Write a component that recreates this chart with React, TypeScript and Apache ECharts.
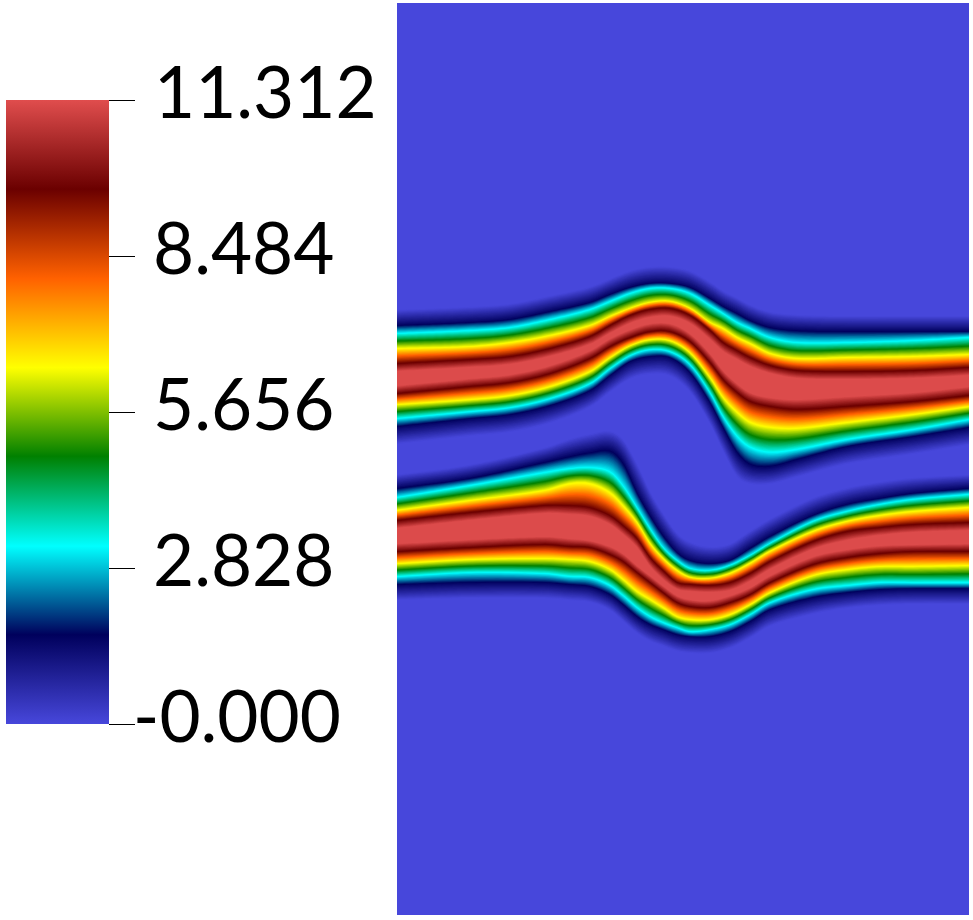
import React, { useEffect, useRef } from "react";
import * as echarts from "echarts";

// Colour bar
const tickLabels = ["-0.000", "2.828", "5.656", "8.484", "11.312"];
const labelShift = [0, 20, 20, 20, 21];
const scaleMax = 11.312;
const tickStep = 2.828;
const rampStops = [0, 0.143, 0.285, 0.429, 0.571, 0.714, 0.857, 1];
const rampColors = [
  [71, 71, 219],
  [0, 0, 92],
  [0, 255, 255],
  [0, 128, 0],
  [255, 255, 0],
  [255, 97, 0],
  [107, 0, 0],
  [224, 77, 77],
];

// Field contours (image coordinates). Contour levels, as fraction of the scale:
const contourLevels = [0, 0.143, 0.285, 0.571, 0.857, 1];

const upperX = [397, 470, 510, 550, 590, 610, 630, 650, 670, 690, 710, 723, 737, 750, 770, 797, 847, 913, 969];
const upperTopOuter = [309, 306, 303, 295, 286, 278, 270, 266, 266, 270, 281, 290, 297, 304, 311, 314, 315, 315, 315];
const upperTopNavy = [325, 322, 319, 311, 302, 294, 287, 283, 283, 287, 298, 306, 313, 320, 327, 330, 331, 331, 331];
const upperTopCyan = [333, 330, 327, 319, 309, 301, 293, 288, 288, 293, 305, 313, 322, 328, 337, 342, 342, 340, 337];
const upperTopYellow = [348, 346, 342, 335, 325, 316, 308, 302, 301, 308, 322, 328, 337, 343, 353, 358, 357, 356, 354];
const upperTopDark = [363, 359, 356, 348, 336, 325, 315, 309, 308, 315, 330, 342, 350, 357, 365, 370, 371, 370, 367];
const upperTopCore = [371, 367, 364, 356, 344, 333, 323, 317, 316, 323, 339, 351, 359, 366, 373, 378, 379, 378, 375];
const upperBotCore = [386, 379, 375, 366, 351, 339, 330, 324, 324, 334, 354, 371, 384, 393, 398, 400, 397, 393, 387];
const upperBotDark = [394, 387, 383, 374, 359, 347, 338, 332, 332, 342, 363, 380, 393, 402, 407, 410, 407, 402, 396];
const upperBotYellow = [405, 400, 396, 387, 372, 358, 346, 340, 341, 353, 378, 398, 413, 423, 428, 429, 423, 415, 407];
const upperBotCyan = [419, 412, 408, 399, 384, 369, 356, 350, 352, 365, 393, 417, 437, 448, 453, 450, 440, 430, 420];
const upperBotNavy = [427, 419, 415, 406, 391, 376, 362, 357, 358, 373, 403, 428, 453, 465, 467, 460, 447, 437, 428];
const upperBotOuter = [445, 437, 433, 424, 408, 393, 380, 375, 377, 393, 425, 452, 478, 485, 485, 478, 465, 455, 446];

const lowerX = [397, 470, 544, 570, 590, 610, 623, 637, 650, 663, 677, 690, 710, 730, 750, 770, 813, 847, 880, 913, 969];
const lowerTopOuter = [474, 464, 447, 438, 433, 430, 438, 462, 490, 512, 532, 541, 546, 543, 530, 518, 497, 487, 481, 477, 474];
const lowerTopNavy = [488, 478, 462, 456, 452, 450, 462, 492, 515, 535, 552, 560, 563, 560, 548, 536, 515, 504, 498, 493, 488];
const lowerTopCyan = [497, 485, 472, 468, 467, 471, 485, 507, 528, 547, 560, 568, 570, 565, 555, 543, 521, 511, 504, 499, 494];
const lowerTopYellow = [510, 500, 490, 483, 483, 492, 505, 522, 543, 558, 570, 577, 578, 573, 563, 551, 531, 521, 515, 511, 507];
const lowerTopDark = [520, 512, 505, 505, 507, 515, 525, 538, 557, 570, 582, 584, 585, 582, 573, 561, 541, 531, 527, 524, 522];
const lowerTopCore = [528, 520, 513, 514, 516, 524, 534, 547, 566, 579, 589, 591, 592, 590, 581, 569, 549, 540, 535, 532, 530];
const lowerBotCore = [544, 540, 537, 539, 541, 547, 554, 566, 576, 586, 596, 600, 601, 596, 588, 576, 557, 550, 546, 545, 544];
const lowerBotDark = [552, 548, 545, 547, 548, 555, 562, 573, 583, 593, 603, 607, 608, 603, 595, 583, 565, 558, 554, 552, 552];
const lowerBotYellow = [564, 560, 559, 560, 562, 570, 580, 592, 600, 608, 617, 620, 620, 615, 605, 593, 576, 570, 567, 567, 566];
const lowerBotCyan = [577, 573, 574, 577, 578, 586, 596, 608, 617, 623, 628, 632, 630, 625, 615, 603, 590, 586, 583, 583, 583];
const lowerBotNavy = [585, 583, 583, 585, 587, 595, 605, 617, 625, 630, 635, 637, 637, 632, 622, 610, 598, 593, 590, 589, 589];
const lowerBotOuter = [601, 599, 599, 601, 603, 611, 622, 634, 642, 647, 652, 654, 654, 649, 639, 627, 615, 609, 606, 605, 605];

const bands = [
  {
    xs: upperX,
    top: [upperTopOuter, upperTopNavy, upperTopCyan, upperTopYellow, upperTopDark, upperTopCore],
    bot: [upperBotOuter, upperBotNavy, upperBotCyan, upperBotYellow, upperBotDark, upperBotCore],
  },
  {
    xs: lowerX,
    top: [lowerTopOuter, lowerTopNavy, lowerTopCyan, lowerTopYellow, lowerTopDark, lowerTopCore],
    bot: [lowerBotOuter, lowerBotNavy, lowerBotCyan, lowerBotYellow, lowerBotDark, lowerBotCore],
  },
];

const FIELD_LEFT = 397;
const FIELD_RIGHT = 969;
const FIELD_TOP = 3;
const FIELD_BOTTOM = 915;
const SHADES = 110;
const STEP = 4;

function rampColor(t: number) {
  let i = 0;
  while (i < rampStops.length - 2 && t > rampStops[i + 1]) i++;
  const f = Math.min(1, Math.max(0, (t - rampStops[i]) / (rampStops[i + 1] - rampStops[i])));
  const a = rampColors[i];
  const b = rampColors[i + 1];
  return `rgb(${Math.round(a[0] + (b[0] - a[0]) * f)},${Math.round(a[1] + (b[1] - a[1]) * f)},${Math.round(a[2] + (b[2] - a[2]) * f)})`;
}

// Smooth curve through the points, used only to draw them.
function curveY(xs: number[], ys: number[], x: number) {
  let i = 0;
  while (i < xs.length - 2 && x > xs[i + 1]) i++;
  const h = xs[i + 1] - xs[i];
  const slope = (k: number) => {
    const a = Math.max(0, k - 1);
    const b = Math.min(xs.length - 1, k + 1);
    return (ys[b] - ys[a]) / (xs[b] - xs[a]);
  };
  const u = (x - xs[i]) / h;
  const u2 = u * u;
  const u3 = u2 * u;
  return (
    (2 * u3 - 3 * u2 + 1) * ys[i] +
    (u3 - 2 * u2 + u) * h * slope(i) +
    (-2 * u3 + 3 * u2) * ys[i + 1] +
    (u3 - u2) * h * slope(i + 1)
  );
}

function contourAt(lines: number[][], xs: number[], level: number, x: number) {
  let i = 0;
  while (i < contourLevels.length - 2 && level > contourLevels[i + 1]) i++;
  const f = (level - contourLevels[i]) / (contourLevels[i + 1] - contourLevels[i]);
  const a = curveY(xs, lines[i], x);
  const b = curveY(xs, lines[i + 1], x);
  return a + (b - a) * f;
}

const shadeData: number[][] = [];
for (let s = 1; s <= SHADES; s++) {
  const level = s / SHADES;
  shadeData.push([0, level]);
  shadeData.push([1, level]);
}

function renderShade(_params: any, api: any) {
  const band = bands[api.value(0)];
  const level = api.value(1);
  const topPts: number[][] = [];
  const botPts: number[][] = [];
  for (let x = FIELD_LEFT; ; x += STEP) {
    const px = Math.min(x, FIELD_RIGHT);
    topPts.push(api.coord([px, contourAt(band.top, band.xs, level, px)]));
    botPts.push(api.coord([px, contourAt(band.bot, band.xs, level, px)]));
    if (px >= FIELD_RIGHT) break;
  }
  return {
    type: "polygon",
    silent: true,
    shape: { points: topPts.concat(botPts.reverse()) },
    style: { fill: rampColor(level - 0.5 / SHADES), stroke: null },
  };
}

export default function App() {
  const ref = useRef<HTMLDivElement>(null);
  useEffect(() => {
    const chart = echarts.init(ref.current!, null, { renderer: "svg" });
    chart.setOption({
      animation: false,
      backgroundColor: "#ffffff",
      grid: [
        {
          left: FIELD_LEFT,
          top: FIELD_TOP,
          width: FIELD_RIGHT - FIELD_LEFT,
          height: FIELD_BOTTOM - FIELD_TOP,
          show: true,
          borderWidth: 0,
          backgroundColor: rampColor(0),
        },
        { left: 6, top: 100, width: 103, height: 624 },
      ],
      xAxis: [
        { type: "value", gridIndex: 0, min: FIELD_LEFT, max: FIELD_RIGHT, show: false },
        { type: "category", gridIndex: 1, data: ["scale"], show: false },
      ],
      yAxis: [
        { type: "value", gridIndex: 0, min: FIELD_TOP, max: FIELD_BOTTOM, inverse: true, show: false },
        {
          type: "value",
          gridIndex: 1,
          position: "right",
          min: 0,
          max: scaleMax,
          interval: tickStep,
          splitLine: { show: false },
          axisLine: { show: false },
          axisTick: { show: true, length: 26, inside: false, lineStyle: { color: "#000", width: 1 } },
          axisLabel: {
            show: true,
            margin: 24,
            align: "left",
            color: "#000",
            formatter: (_v: number, i: number) => `{s${i}|${tickLabels[i]}}`,
            rich: Object.fromEntries(
              labelShift.map((p, i) => [
                `s${i}`,
                {
                  fontFamily: "Lato",
                  fontSize: 71,
                  fontWeight: 400,
                  color: "#000",
                  padding: [0, 0, 20, p],
                },
              ])
            ),
          },
        },
      ],
      series: [
        {
          type: "custom",
          xAxisIndex: 0,
          yAxisIndex: 0,
          coordinateSystem: "cartesian2d",
          clip: true,
          silent: true,
          renderItem: renderShade,
          data: shadeData,
        },
        {
          type: "bar",
          xAxisIndex: 1,
          yAxisIndex: 1,
          barWidth: "100%",
          silent: true,
          data: [scaleMax],
          itemStyle: {
            color: new echarts.graphic.LinearGradient(
              0,
              0,
              0,
              1,
              rampStops
                .map((s, i) => ({ offset: 1 - s, color: `rgb(${rampColors[i].join(",")})` }))
                .reverse()
            ),
          },
        },
      ],
    });
    return () => chart.dispose();
  }, []);
  return <div ref={ref} style={{ position: "absolute", left: 0, top: 0, width: 973, height: 920 }} />;
}
